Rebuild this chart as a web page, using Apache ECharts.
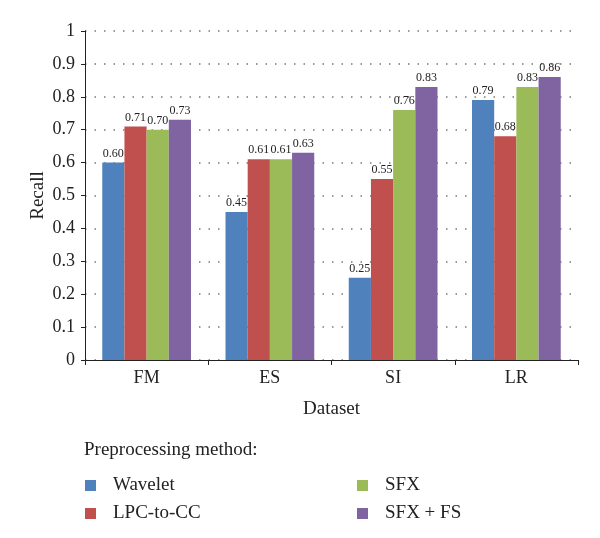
<!DOCTYPE html>
<html>
<head>
<meta charset="utf-8">
<script src="https://cdn.jsdelivr.net/npm/echarts@6/dist/echarts.min.js"></script>
<style>html,body{margin:0;padding:0;background:#fff;}#c{width:600px;height:538px;}</style>
</head>
<body>
<div id="c"></div>
<script>
const categories = ['FM', 'ES', 'SI', 'LR'];
const seriesNames = ['Wavelet', 'LPC-to-CC', 'SFX', 'SFX + FS'];
const wavelet = [0.60, 0.45, 0.25, 0.79];
const lpcToCc = [0.71, 0.61, 0.55, 0.68];
const sfx = [0.70, 0.61, 0.76, 0.83];
const sfxFs = [0.73, 0.63, 0.83, 0.86];
const yTicks = [0, 0.1, 0.2, 0.3, 0.4, 0.5, 0.6, 0.7, 0.8, 0.9, 1];

const colors = ['#4F81BD', '#C0504D', '#9BBB59', '#8064A2'];
const FONT = '"Liberation Serif", "DejaVu Serif", serif';
const allValues = [wavelet, lpcToCc, sfx, sfxFs];

const chart = echarts.init(document.getElementById('c'), null, {renderer: 'canvas'});
chart.setOption({
  animation: false,
  backgroundColor: '#fff',
  textStyle: {fontFamily: FONT},
  title: {
    text: 'Preprocessing method:',
    left: 79, top: 436,
    textStyle: {fontFamily: FONT, fontSize: 19, fontWeight: 'normal', color: '#222'}
  },
  legend: [
    {
      data: [seriesNames[0], seriesNames[1]],
      orient: 'vertical', left: 80, top: 471,
      itemWidth: 11, itemHeight: 11, itemGap: 9,
      icon: 'rect',
      textStyle: {fontFamily: FONT, fontSize: 19, color: '#222', padding: [0, 0, 0, 12]}
    },
    {
      data: [seriesNames[2], seriesNames[3]],
      orient: 'vertical', left: 352, top: 471,
      itemWidth: 11, itemHeight: 11, itemGap: 9,
      icon: 'rect',
      textStyle: {fontFamily: FONT, fontSize: 19, color: '#222', padding: [0, 0, 0, 12]}
    }
  ],
  grid: {left: 85, right: 22, top: 31, bottom: 178, containLabel: false},
  xAxis: {
    type: 'category',
    data: categories,
    name: 'Dataset',
    nameLocation: 'middle',
    nameGap: 40,
    nameMoveOverlap: false,
    nameTextStyle: {fontFamily: FONT, fontSize: 19, color: '#222'},
    axisLine: {lineStyle: {color: '#222', width: 1}},
    axisTick: {show: true, length: 5, lineStyle: {color: '#222'}},
    axisLabel: {fontFamily: FONT, fontSize: 18, color: '#222', margin: 9},
    splitLine: {show: false}
  },
  yAxis: {
    type: 'value',
    min: yTicks[0], max: yTicks[yTicks.length - 1], interval: 0.1,
    name: 'Recall',
    nameLocation: 'middle',
    nameGap: 37,
    nameMoveOverlap: false,
    nameTextStyle: {fontFamily: FONT, fontSize: 19, color: '#222'},
    axisLine: {show: true, lineStyle: {color: '#222', width: 1}},
    axisTick: {show: true, length: 4, lineStyle: {color: '#222'}},
    axisLabel: {fontFamily: FONT, fontSize: 18, color: '#222', margin: 10,
      formatter: v => String(Math.round(v * 10) / 10)},
    splitLine: {show: true, lineStyle: {color: '#777', type: [1.5, 8], width: 1.5}}
  },
  series: seriesNames.map((n, i) => ({
    name: n,
    type: 'bar',
    data: allValues[i],
    barGap: '0%',
    barCategoryGap: '28%',
    itemStyle: {color: colors[i]},
    label: {
      show: true, position: 'top', distance: 3,
      fontFamily: FONT, fontSize: 12, color: '#222',
      formatter: p => p.value.toFixed(2)
    }
  }))
});
</script>
</body>
</html>
